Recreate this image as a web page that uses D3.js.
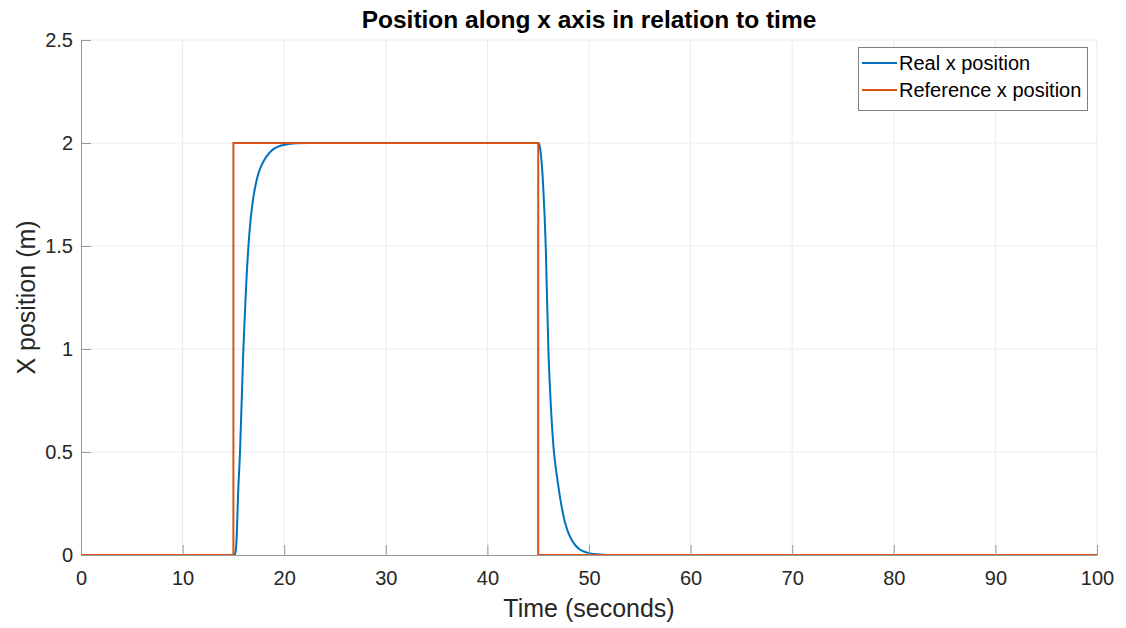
<!DOCTYPE html>
<html>
<head>
<meta charset="utf-8">
<script src="https://cdn.jsdelivr.net/npm/d3@7"></script>
<style>
  html, body { margin: 0; padding: 0; background: #fff; }
  svg { display: block; font-family: 'Liberation Sans', Arial, Helvetica, sans-serif; }
</style>
</head>
<body>
<svg id="chart" width="1126" height="628"></svg>
<script>
// data
const xTicks = [0, 10, 20, 30, 40, 50, 60, 70, 80, 90, 100];
const yTicks = [0, 0.5, 1, 1.5, 2, 2.5];
const yTickLabels = ['0', '0.5', '1', '1.5', '2', '2.5'];

const refT = [0, 15, 15, 45, 45, 100];
const refX = [0, 0, 2, 2, 0, 0];

const realT = [0, 15, 15.15, 15.25, 15.35, 15.45, 15.65, 15.98, 16.2, 16.48, 16.7, 16.96, 17.2, 17.45, 17.8, 18.27, 18.7, 19.09, 19.7, 20.4, 21.2, 22.5,
               45.05, 45.2, 45.35, 45.5, 45.74, 46.0, 46.25, 46.55, 46.85, 47.15, 47.6, 47.95, 48.3, 48.7, 49.1, 49.6, 50.1, 51, 52.5, 100];
const realX = [0, 0, 0.003, 0.03, 0.12, 0.28, 0.5, 1.0, 1.25, 1.5, 1.63, 1.735, 1.8, 1.85, 1.895, 1.935, 1.96, 1.975, 1.988, 1.995, 1.999, 2.0,
               2.0, 1.97, 1.9, 1.78, 1.5, 1.0, 0.72, 0.5, 0.38, 0.28, 0.165, 0.11, 0.073, 0.045, 0.027, 0.015, 0.008, 0.003, 0, 0];

const series = [
  { name: 'Real x position', color: '#0072BD' },
  { name: 'Reference x position', color: '#D95319' }
];

const svg = d3.select('#chart');
const m = { left: 81, right: 29, top: 40, bottom: 73 };
const W = 1126, H = 628;
const x = d3.scaleLinear().domain([0, 100]).range([m.left, W - m.right]);
const y = d3.scaleLinear().domain([0, 2.5]).range([H - m.bottom, m.top]);

// grid
const grid = svg.append('g').attr('stroke', '#ebebeb').attr('stroke-width', 1);
grid.selectAll('line.gx').data(xTicks.slice(1)).join('line')
  .attr('x1', d => x(d)).attr('x2', d => x(d)).attr('y1', y(0)).attr('y2', y(2.5));
grid.selectAll('line.gy').data(yTicks.slice(1)).join('line')
  .attr('x1', x(0)).attr('x2', x(100)).attr('y1', d => y(d)).attr('y2', d => y(d));

// lines
const line = d3.line().x(d => x(d[0])).y(d => y(d[1]));
const lines = svg.append('g').attr('fill', 'none').attr('stroke-width', 2);
lines.append('path')
  .attr('d', line.curve(d3.curveMonotoneX)(d3.zip(realT, realX)))
  .attr('stroke', series[0].color);
lines.append('path')
  .attr('d', line.curve(d3.curveLinear)(d3.zip(refT, refX)))
  .attr('stroke', series[1].color);

// axes (ticks inward, MATLAB style)
const xAxis = svg.append('g').attr('transform', 'translate(0,' + y(0) + ')')
  .call(d3.axisBottom(x).tickValues(xTicks).tickSizeInner(-10).tickSizeOuter(0).tickPadding(16));
const yAxis = svg.append('g').attr('transform', 'translate(' + x(0) + ',0)')
  .call(d3.axisLeft(y).tickValues(yTicks).tickFormat((d, i) => yTickLabels[i]).tickSizeInner(-10).tickSizeOuter(0).tickPadding(8));
[xAxis, yAxis].forEach(a => {
  a.select('.domain').attr('stroke', '#999').attr('stroke-width', 1);
  a.selectAll('.tick line').attr('stroke', '#999');
  a.selectAll('.tick text').attr('fill', '#262626').attr('font-size', 20)
    .attr('font-family', "'Liberation Sans', Arial, sans-serif");
});

// labels
svg.append('text').attr('x', (x(0) + x(100)) / 2).attr('y', 28)
  .attr('text-anchor', 'middle').attr('font-size', 24.5).attr('font-weight', 'bold').attr('fill', '#000')
  .text('Position along x axis in relation to time');
svg.append('text').attr('x', (x(0) + x(100)) / 2).attr('y', 617)
  .attr('text-anchor', 'middle').attr('font-size', 25).attr('fill', '#262626')
  .text('Time (seconds)');
svg.append('text').attr('transform', 'translate(35,' + y(1.25) + ') rotate(-90)')
  .attr('text-anchor', 'middle').attr('font-size', 25).attr('fill', '#262626')
  .text('X position (m)');

// legend
const lg = svg.append('g');
lg.append('rect').attr('x', 858.5).attr('y', 47.5).attr('width', 229).attr('height', 63)
  .attr('fill', '#fff').attr('stroke', '#7f7f7f').attr('stroke-width', 1);
series.forEach((s, i) => {
  const yy = 63 + i * 27;
  lg.append('line').attr('x1', 862).attr('x2', 897).attr('y1', yy).attr('y2', yy)
    .attr('stroke', s.color).attr('stroke-width', 2);
  lg.append('text').attr('x', 899).attr('y', yy).attr('dy', '0.35em')
    .attr('font-size', 20).attr('fill', '#000').text(s.name);
});
</script>
</body>
</html>
